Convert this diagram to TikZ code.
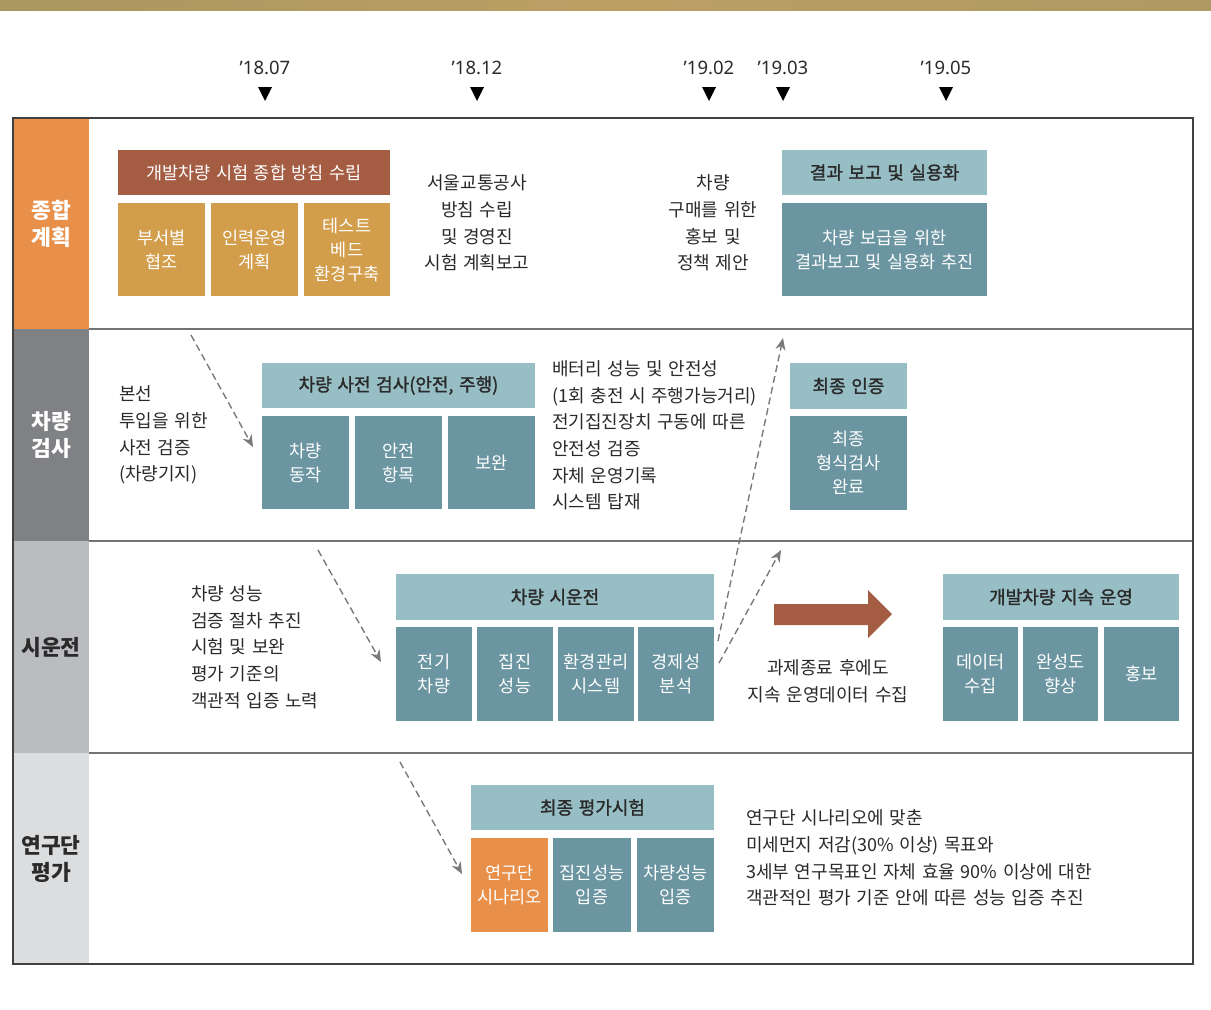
\documentclass[tikz,border=0pt]{standalone}
\usepackage{fontspec}
\setmainfont[WordSpace=1.4]{Noto Sans CJK KR}
\newfontfamily\krsemi[FakeBold=1.5,WordSpace=1.4]{Noto Sans CJK KR}
\newfontfamily\latinf{Noto Sans}
\usetikzlibrary{arrows.meta}
\definecolor{orangeC}{HTML}{E8904A}
\definecolor{grayA}{HTML}{808184}
\definecolor{grayB}{HTML}{BBBCC0}
\definecolor{grayC}{HTML}{DCDDDF}
\definecolor{brownC}{HTML}{A45C43}
\definecolor{goldC}{HTML}{D39E4C}
\definecolor{tealL}{HTML}{98BEC5}
\definecolor{tealD}{HTML}{6A95A1}
\definecolor{txtD}{HTML}{2A2A2A}
\definecolor{dashC}{HTML}{7A7A7A}
\definecolor{bandL}{HTML}{A9975F}
\definecolor{bandM}{HTML}{BC9F63}
\definecolor{bandR}{HTML}{AE9A62}
\tikzset{
  sz/.style 2 args={minimum width=#1pt, minimum height=#2pt},
  box/.style={inner sep=0pt, outer sep=0pt, anchor=north west, align=center,
    text=white, font=\fontsize{17.5pt}{24pt}\selectfont},
  hdr/.style={box, fill=tealL, text=txtD, font=\krsemi\fontsize{18pt}{24pt}\selectfont},
  lab/.style={inner sep=0pt, outer sep=0pt, anchor=north west, align=center,
    font=\bfseries\fontsize{21.5pt}{27pt}\selectfont},
  txt/.style={inner sep=0pt, text=txtD, font=\fontsize{18pt}{26.7pt}\selectfont},
  tline/.style={inner sep=0pt, text=txtD, font=\latinf\fontsize{18.5pt}{22pt}\selectfont},
  dsh/.style={draw=dashC, line width=1.4pt, dash pattern=on 7pt off 4pt,
    -{Stealth[length=12pt,width=10pt]}},
  sepl/.style={draw=black!55, line width=1.4pt}
}
\begin{document}
\begin{tikzpicture}[x=1pt,y=-1pt]
\useasboundingbox (0,0) rectangle (1211,1010);
\fill[white] (0,0) rectangle (1211,1010);
\shade[left color=bandL, right color=bandR, middle color=bandM] (0,0) rectangle (1211,10);

% timeline
\node[tline] (m1) at (265,68) {’18.07};
\node[tline] (m2) at (477,68) {’18.12};
\node[tline] (m3) at (709,68) {’19.02};
\node[tline] (m4) at (783,68) {’19.03};
\node[tline] (m5) at (946,68) {’19.05};
\foreach \xx in {265,477,709,783,946}{
  \fill[black] (\xx-7,87) -- (\xx+7,87) -- (\xx,101) -- cycle;
}

% row label column
\node[lab, fill=orangeC, text=white, sz={76}{211}] (l1) at (13,118) {종합\\계획};
\node[lab, fill=grayA, text=white, sz={76}{212}] (l2) at (13,329) {차량\\검사};
\node[lab, fill=grayB, text=txtD, sz={76}{212}] (l3) at (13,541) {시운전};
\node[lab, fill=grayC, text=txtD, sz={76}{211}] (l4) at (13,753) {연구단\\평가};

% frame and separators
\draw[sepl] (89,329) -- (1193,329);
\draw[sepl] (89,541) -- (1193,541);
\draw[sepl] (89,753) -- (1193,753);
\draw[draw=black!75, line width=1.2pt] (13,118) rectangle (1193,964);

% row 1
\node[box, fill=brownC, sz={272}{45}] (t1) at (118,150) {개발차량 시험 종합 방침 수립};
\node[box, fill=goldC, sz={87}{93}] (g1) at (118,203) {부서별\\협조};
\node[box, fill=goldC, sz={87}{93}] (g2) at (211,203) {인력운영\\계획};
\node[box, fill=goldC, sz={86}{93}] (g3) at (304,203) {테스트\\베드\\환경구축};
\node[txt, align=center] (x11) at (477,223) {서울교통공사\\방침 수립\\및 경영진\\시험 계획보고};
\node[txt, align=center] (x12) at (713,223) {차량\\구매를 위한\\홍보 및\\정책 제안};
\node[hdr, sz={205}{45}] (r1h) at (782,150) {결과 보고 및 실용화};
\node[box, fill=tealD, sz={205}{93}] (r1b) at (782,203) {차량 보급을 위한\\결과보고 및 실용화 추진};

% row 2
\node[txt, align=left, anchor=west] (x21) at (119,435) {본선\\투입을 위한\\사전 검증\\(차량기지)};
\node[hdr, sz={273}{45}] (h2) at (262,363) {차량 사전 검사(안전, 주행)};
\node[box, fill=tealD, sz={87}{93}] (b21) at (262,416) {차량\\동작};
\node[box, fill=tealD, sz={87}{93}] (b22) at (355,416) {안전\\항목};
\node[box, fill=tealD, sz={87}{93}] (b23) at (448,416) {보완};
\node[txt, align=left, anchor=west] (x22) at (552,435.5) {배터리 성능 및 안전성\\(1회 충전 시 주행가능거리)\\전기집진장치 구동에 따른\\안전성 검증\\자체 운영기록\\시스템 탑재};
\node[hdr, sz={117}{46}] (h2b) at (790,363) {최종 인증};
\node[box, fill=tealD, sz={117}{94}] (b2b) at (790,416) {최종\\형식검사\\완료};

% row 3
\node[txt, align=left, anchor=west] (x31) at (191,647) {차량 성능\\검증 절차 추진\\시험 및 보완\\평가 기준의\\객관적 입증 노력};
\node[hdr, sz={318}{46}] (h3) at (396,574) {차량 시운전};
\node[box, fill=tealD, sz={76}{94}] (b31) at (396,627) {전기\\차량};
\node[box, fill=tealD, sz={76}{94}] (b32) at (477,627) {집진\\성능};
\node[box, fill=tealD, sz={76}{94}] (b33) at (558,627) {환경관리\\시스템};
\node[box, fill=tealD, sz={76}{94}] (b34) at (638,627) {경제성\\분석};
\fill[brownC] (774,604) -- (868,604) -- (868,590) -- (892,614) -- (868,638) -- (868,625) -- (774,625) -- cycle;
\node[txt, align=center] (x32) at (828,681) {과제종료 후에도\\지속 운영데이터 수집};
\node[hdr, sz={236}{46}] (h3b) at (943,574) {개발차량 지속 운영};
\node[box, fill=tealD, sz={75}{94}] (b35) at (943,627) {데이터\\수집};
\node[box, fill=tealD, sz={75}{94}] (b36) at (1023,627) {완성도\\향상};
\node[box, fill=tealD, sz={75}{94}] (b37) at (1104,627) {홍보};

% row 4
\node[hdr, sz={243}{45}] (h4) at (471,785) {최종 평가시험};
\node[box, fill=orangeC, sz={77}{94}] (b41) at (471,838) {연구단\\시나리오};
\node[box, fill=tealD, sz={78}{94}] (b42) at (553,838) {집진성능\\입증};
\node[box, fill=tealD, sz={77}{94}] (b43) at (637,838) {차량성능\\입증};
\node[txt, align=left, anchor=west] (x41) at (746,858) {연구단 시나리오에 맞춘\\미세먼지 저감(30\% 이상) 목표와\\3세부 연구목표인 자체 효율 90\% 이상에 대한\\객관적인 평가 기준 안에 따른 성능 입증 추진};

% dashed connectors
\coordinate (a1s) at (191,335);
\coordinate (a1e) at (253,447);
\coordinate (a2s) at (318,550);
\coordinate (a2e) at (381,662);
\coordinate (a3s) at (400,762);
\coordinate (a3e) at (462,874);
\coordinate (a4s) at (718,641);
\coordinate (a4e) at (783,338);
\coordinate (a5s) at (719,663);
\coordinate (a5e) at (781,550);
\draw[dsh] (a1s) -- (a1e);
\draw[dsh] (a2s) -- (a2e);
\draw[dsh] (a3s) -- (a3e);
\draw[dsh] (a4s) -- (a4e);
\draw[dsh] (a5s) -- (a5e);
\end{tikzpicture}
\end{document}
